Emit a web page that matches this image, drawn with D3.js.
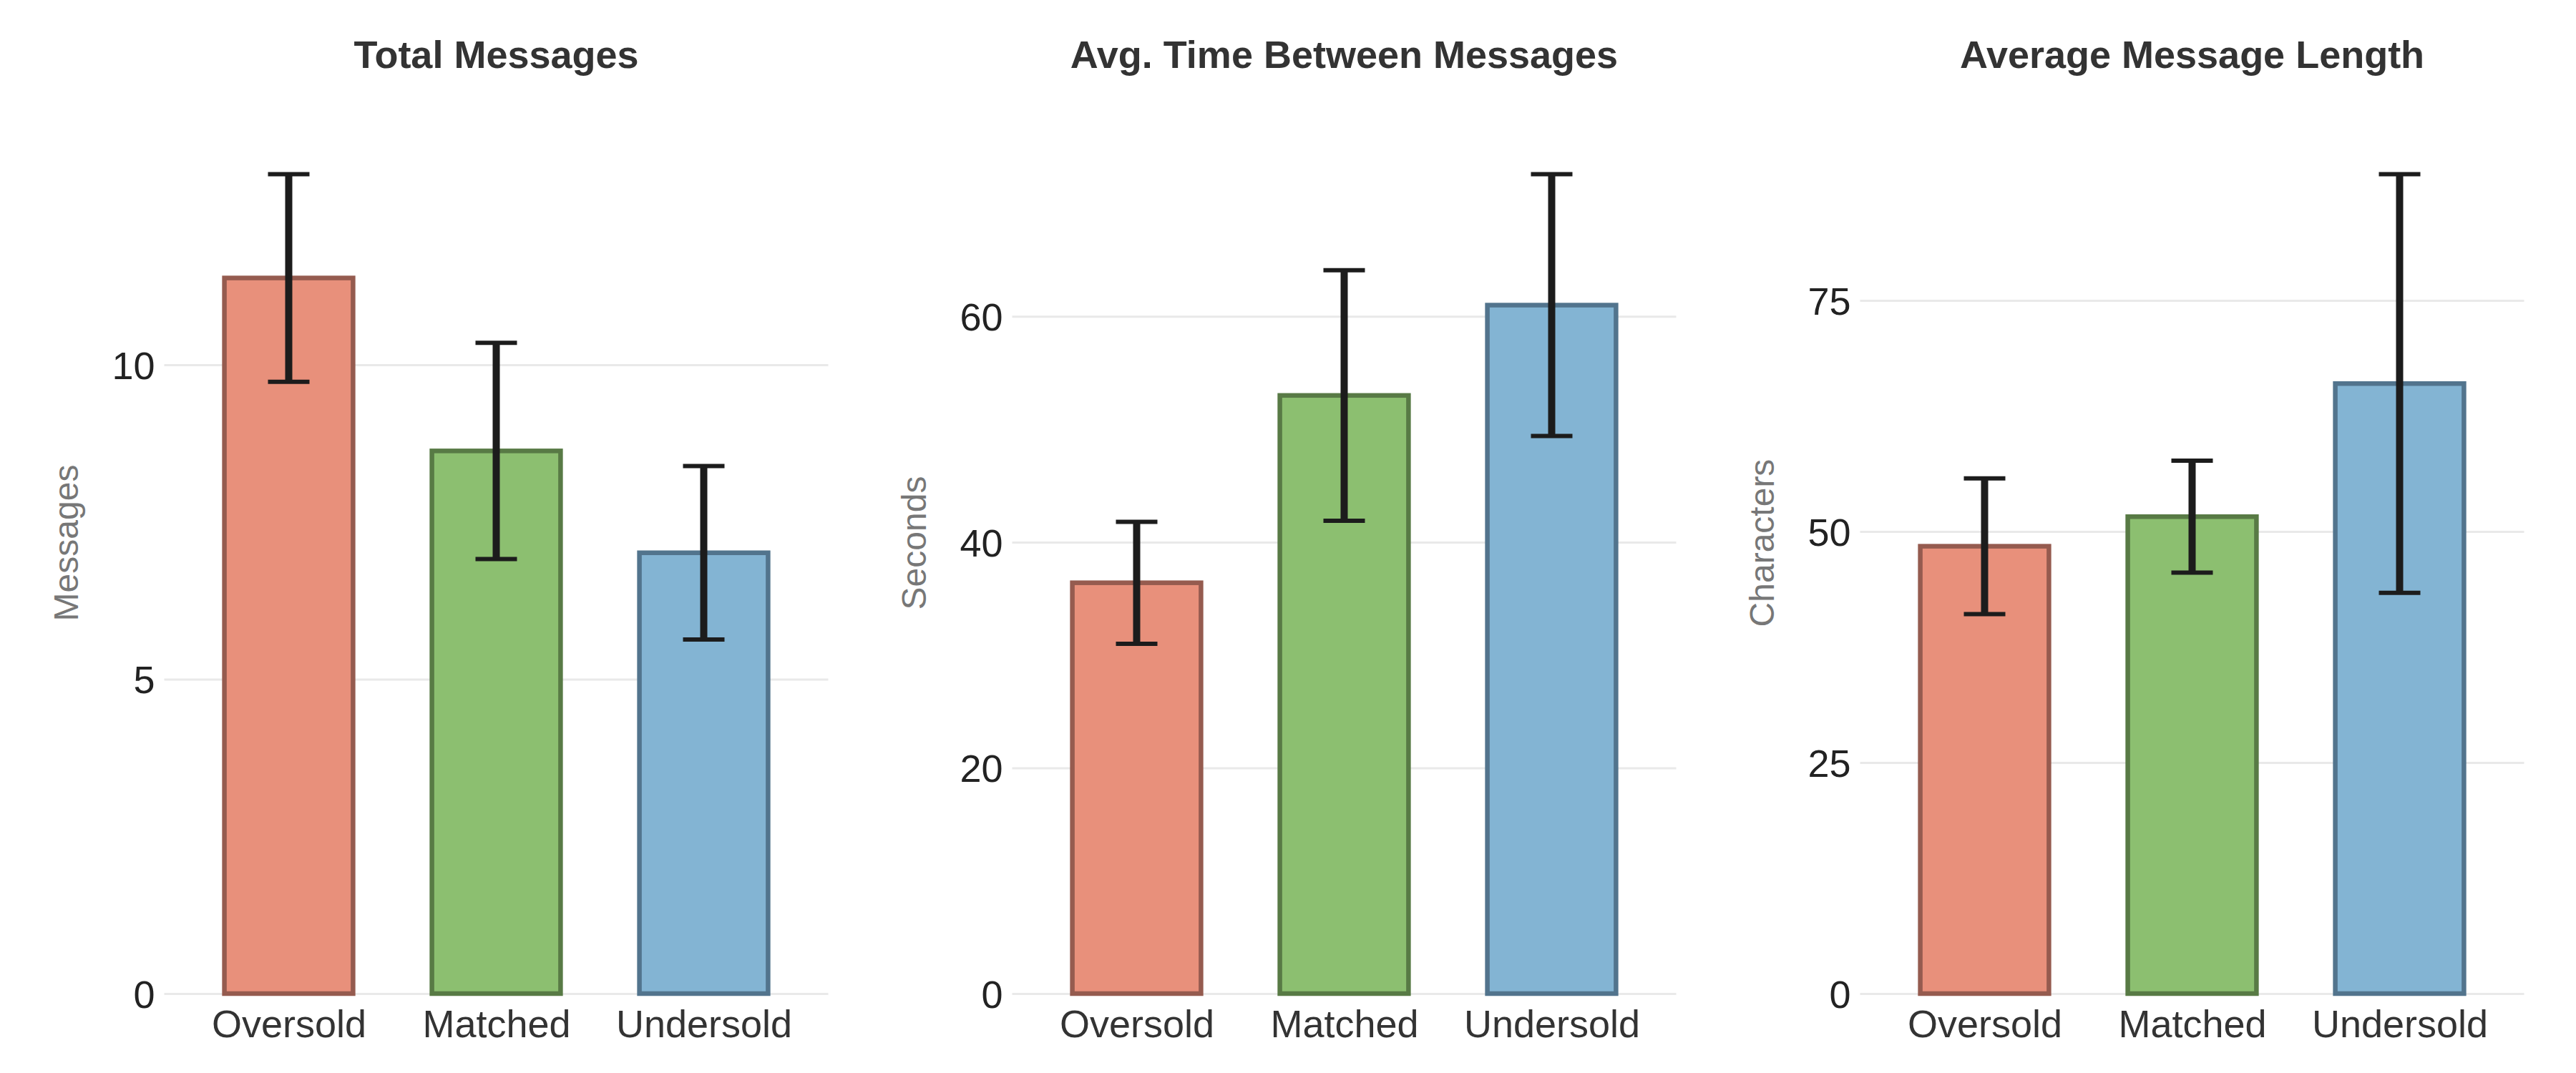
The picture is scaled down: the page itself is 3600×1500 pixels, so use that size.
<!DOCTYPE html>
<html>
<head>
<meta charset="utf-8">
<script src="https://cdn.jsdelivr.net/npm/d3@7"></script>
<style>
  html, body { margin: 0; padding: 0; background: #ffffff; }
  svg { display: block; }
</style>
</head>
<body>
<svg id="chart" width="3600" height="1500"></svg>
<script>
// ---------------- data ----------------
const categories = ["Oversold", "Matched", "Undersold"];

const panelTitles = ["Total Messages", "Avg. Time Between Messages", "Average Message Length"];
const panelYLabels = ["Messages", "Seconds", "Characters"];

const totalMessagesMean = [11.38, 8.63, 7.01];
const totalMessagesErr  = [1.65, 1.72, 1.38];

const avgTimeMean = [36.4, 53.0, 61.0];
const avgTimeErr  = [5.4, 11.1, 11.6];

const avgLengthMean = [48.4, 51.6, 66.0];
const avgLengthErr  = [7.35, 6.05, 22.65];

const totalMessagesTicks = [0, 5, 10];
const avgTimeTicks = [0, 20, 40, 60];
const avgLengthTicks = [0, 25, 50, 75];

const fillColors   = ["#E8907B", "#8CBF70", "#83B4D3"];
const strokeColors = ["#955B4F", "#587A45", "#52748D"];

// ---------------- layout ----------------
const FONT = "'Liberation Sans', Arial, Helvetica, sans-serif";
const panelLeft0 = 229.5, panelStep = 1185, panelW = 928;
const plotTop = 129, plotBottom = 1389;

const panels = [
  { mean: totalMessagesMean, err: totalMessagesErr, ticks: totalMessagesTicks },
  { mean: avgTimeMean, err: avgTimeErr, ticks: avgTimeTicks },
  { mean: avgLengthMean, err: avgLengthErr, ticks: avgLengthTicks }
];

const svg = d3.select("#chart");
svg.append("rect").attr("width", 3600).attr("height", 1500).attr("fill", "#ffffff");

panels.forEach((p, pi) => {
  const left = panelLeft0 + pi * panelStep;
  const g = svg.append("g").attr("transform", `translate(${left},0)`);

  const x = d3.scaleLinear().domain([-0.6, 2.6]).range([0, panelW]);
  const maxTop = d3.max(p.mean.map((m, i) => m + p.err[i]));
  const y = d3.scaleLinear().domain([0, maxTop * 1.1]).range([plotBottom, plotTop]);

  // gridlines
  const grid = g.append("g").call(
    d3.axisLeft(y).tickValues(p.ticks).tickSize(-panelW).tickFormat("")
  );
  grid.select(".domain").remove();
  grid.selectAll("line").attr("stroke", "#e9e9e9").attr("stroke-width", 3);

  // bars
  const bw = 0.62;
  g.selectAll("rect.bar").data(p.mean).enter().append("rect")
    .attr("class", "bar")
    .attr("x", (d, i) => x(i - bw / 2))
    .attr("width", (d, i) => x(i + bw / 2) - x(i - bw / 2))
    .attr("y", d => y(d))
    .attr("height", d => y(0) - y(d))
    .attr("fill", (d, i) => fillColors[i])
    .attr("stroke", (d, i) => strokeColors[i])
    .attr("stroke-width", 6.5);

  // error bars
  const capHalf = 29;
  const eb = g.selectAll("g.eb").data(p.mean).enter().append("g").attr("class", "eb");
  eb.append("line")
    .attr("x1", (d, i) => x(i)).attr("x2", (d, i) => x(i))
    .attr("y1", (d, i) => y(d - p.err[i])).attr("y2", (d, i) => y(d + p.err[i]))
    .attr("stroke", "#1c1c1c").attr("stroke-width", 10);
  eb.append("line")
    .attr("x1", (d, i) => x(i) - capHalf).attr("x2", (d, i) => x(i) + capHalf)
    .attr("y1", (d, i) => y(d + p.err[i])).attr("y2", (d, i) => y(d + p.err[i]))
    .attr("stroke", "#1c1c1c").attr("stroke-width", 6);
  eb.append("line")
    .attr("x1", (d, i) => x(i) - capHalf).attr("x2", (d, i) => x(i) + capHalf)
    .attr("y1", (d, i) => y(d - p.err[i])).attr("y2", (d, i) => y(d - p.err[i]))
    .attr("stroke", "#1c1c1c").attr("stroke-width", 6);

  // y tick labels
  const ya = g.append("g").call(
    d3.axisLeft(y).tickValues(p.ticks).tickSize(0).tickPadding(13).tickFormat(d3.format("d"))
  );
  ya.select(".domain").remove();
  ya.selectAll("text")
    .attr("font-family", FONT).attr("font-size", 54).attr("fill", "#222222")
    .attr("dy", "0.36em");

  // x tick labels
  const xa = g.append("g").attr("transform", `translate(0,${plotBottom})`).call(
    d3.axisBottom(x).tickValues([0, 1, 2]).tickSize(0).tickFormat(i => categories[i])
  );
  xa.select(".domain").remove();
  xa.selectAll("text")
    .attr("font-family", FONT).attr("font-size", 54).attr("fill", "#333333")
    .attr("y", 61).attr("dy", 0);

  // title
  g.append("text")
    .attr("x", panelW / 2).attr("y", 95)
    .attr("text-anchor", "middle")
    .attr("font-family", FONT).attr("font-size", 54).attr("font-weight", "bold")
    .attr("fill", "#333333")
    .text(panelTitles[pi]);

  // y label
  g.append("text")
    .attr("transform", `translate(${-137},${(plotTop + plotBottom) / 2}) rotate(-90)`)
    .attr("text-anchor", "middle")
    .attr("dominant-baseline", "central")
    .attr("font-family", FONT).attr("font-size", 48)
    .attr("fill", "#777777")
    .text(panelYLabels[pi]);
});
</script>
</body>
</html>
